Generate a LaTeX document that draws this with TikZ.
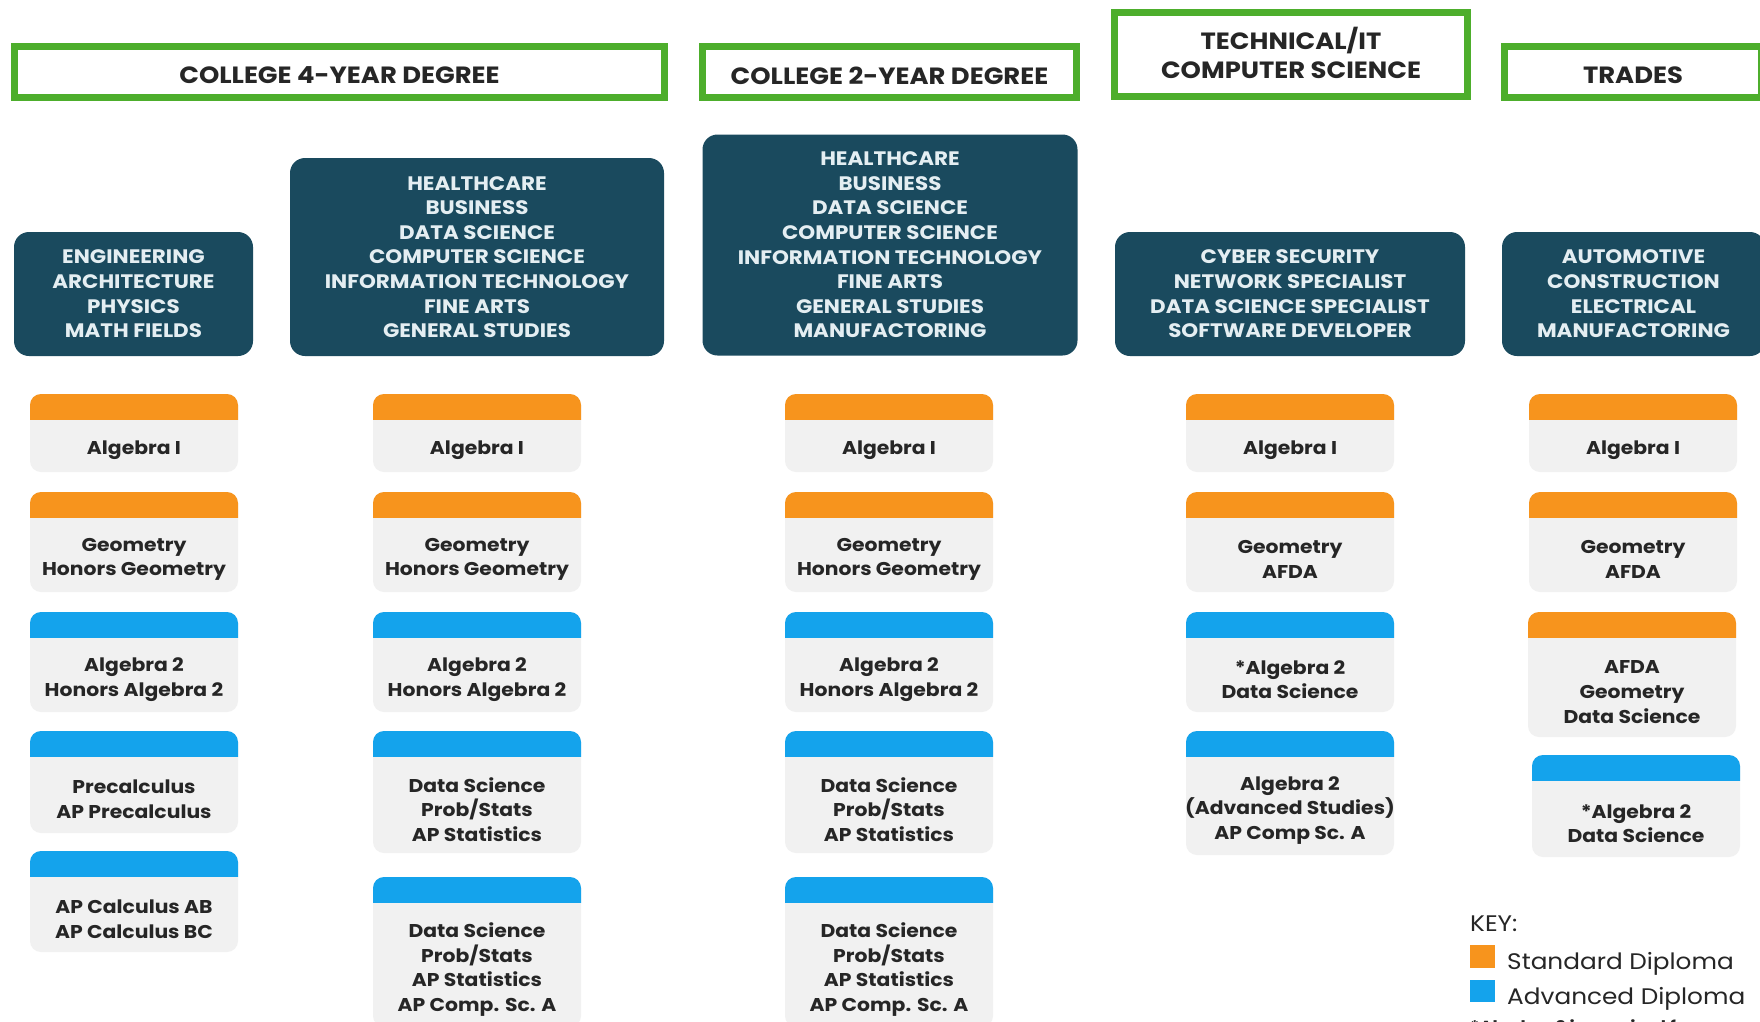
\documentclass[tikz,border=0pt]{standalone}
\usepackage{fontspec}
\setmainfont{Poppins}[FakeStretch=1.1]
\definecolor{hdrgreen}{HTML}{4DAE2C}
\definecolor{darkteal}{HTML}{1A4A5E}
\definecolor{boxtext}{HTML}{E4EEF2}
\definecolor{stdorange}{HTML}{F7941D}
\definecolor{advblue}{HTML}{14A3EC}
\definecolor{cardgrey}{HTML}{F1F1F1}
\definecolor{inktext}{HTML}{262626}
\tikzset{
  hdrbox/.style={draw=hdrgreen, line width=7pt, fill=white, inner sep=0pt},
  hdrlabel/.style={text=inktext, align=center,
    font=\fontsize{23.5}{29}\selectfont\bfseries, inner sep=0pt},
  fieldbox/.style={fill=darkteal, rounded corners=15pt, text=boxtext, align=center,
    font=\fontsize{19.5}{24.6}\selectfont\bfseries, inner sep=0pt},
  cardtext/.style={text=inktext, align=center, font=\fontsize{18.5}{24.6}\selectfont\bfseries, inner sep=0pt},
  keytext/.style={text=inktext, anchor=west, font=\fontsize{22.5}{26}\selectfont, inner sep=0pt},
}
\newcommand\coursecard[6]{%
  \fill[cardgrey, rounded corners=11pt] ({#2-104},{#3}) rectangle ({#2+104},{#3+#4});
  \begin{scope}
    \clip ({#2-104},{#3}) rectangle ({#2+104},{#3+25});
    \fill[#5, rounded corners=11pt] ({#2-104},{#3}) rectangle ({#2+104},{#3+#4});
  \end{scope}
  \node[cardtext] (#1) at ({#2},{#3+17.5+#4/2}) {#6};
}
\begin{document}
\begin{tikzpicture}[x=1pt,y=-1pt]
\useasboundingbox (0,0) rectangle (1760,1021);
\clip (0,0) rectangle (1760,1021);
\fill[white] (0,0) rectangle (1760,1021);

% headers
\node[hdrbox, minimum width=650, minimum height=51] (h1) at (339.5,72) {};
\node[hdrlabel] (h1t) at (339.5,75.5) {COLLEGE 4-YEAR DEGREE};
\node[hdrbox, minimum width=374, minimum height=51] (h2) at (889.5,72) {};
\node[hdrlabel] (h2t) at (889.5,75.5) {COLLEGE 2-YEAR DEGREE};
\node[hdrbox, minimum width=353, minimum height=84] (h3) at (1291,54.5) {};
\node[hdrlabel] (h3t) at (1291,53) {TECHNICAL/IT\\COMPUTER SCIENCE};
\node[hdrbox, minimum width=257, minimum height=51] (h4) at (1633,72) {};
\node[hdrlabel] (h4t) at (1633,75.5) {TRADES};

% field boxes
\node[fieldbox, minimum width=239, minimum height=124] (f1) at (133.5,294) {ENGINEERING\\ARCHITECTURE\\PHYSICS\\MATH FIELDS};
\node[fieldbox, minimum width=374, minimum height=198] (f2) at (477,257) {HEALTHCARE\\BUSINESS\\DATA SCIENCE\\COMPUTER SCIENCE\\INFORMATION TECHNOLOGY\\FINE ARTS\\GENERAL STUDIES};
\node[fieldbox, minimum width=375, minimum height=221] (f3) at (890,245) {HEALTHCARE\\BUSINESS\\DATA SCIENCE\\COMPUTER SCIENCE\\INFORMATION TECHNOLOGY\\FINE ARTS\\GENERAL STUDIES\\MANUFACTORING};
\node[fieldbox, minimum width=350, minimum height=124] (f4) at (1290,294) {CYBER SECURITY\\NETWORK SPECIALIST\\DATA SCIENCE SPECIALIST\\SOFTWARE DEVELOPER};
\node[fieldbox, minimum width=263, minimum height=124] (f5) at (1633.5,294) {AUTOMOTIVE\\CONSTRUCTION\\ELECTRICAL\\MANUFACTORING};

% column 1
\coursecard{c11}{134}{394}{78}{stdorange}{Algebra I}
\coursecard{c12}{134}{492}{100}{stdorange}{Geometry\\Honors Geometry}
\coursecard{c13}{134}{612}{100}{advblue}{Algebra 2\\Honors Algebra 2}
\coursecard{c14}{134}{731}{102}{advblue}{Precalculus\\AP Precalculus}
\coursecard{c15}{134}{851}{101}{advblue}{AP Calculus AB\\AP Calculus BC}

% column 2
\coursecard{c21}{477}{394}{78}{stdorange}{Algebra I}
\coursecard{c22}{477}{492}{100}{stdorange}{Geometry\\Honors Geometry}
\coursecard{c23}{477}{612}{100}{advblue}{Algebra 2\\Honors Algebra 2}
\coursecard{c24}{477}{731}{122}{advblue}{Data Science\\Prob/Stats\\AP Statistics}
\coursecard{c25}{477}{877}{150}{advblue}{Data Science\\Prob/Stats\\AP Statistics\\AP Comp. Sc. A}

% column 3
\coursecard{c31}{889}{394}{78}{stdorange}{Algebra I}
\coursecard{c32}{889}{492}{100}{stdorange}{Geometry\\Honors Geometry}
\coursecard{c33}{889}{612}{100}{advblue}{Algebra 2\\Honors Algebra 2}
\coursecard{c34}{889}{731}{122}{advblue}{Data Science\\Prob/Stats\\AP Statistics}
\coursecard{c35}{889}{877}{150}{advblue}{Data Science\\Prob/Stats\\AP Statistics\\AP Comp. Sc. A}

% column 4
\coursecard{c41}{1290}{394}{78}{stdorange}{Algebra I}
\coursecard{c42}{1290}{492}{100}{stdorange}{Geometry\\AFDA}
\coursecard{c43}{1290}{612}{100}{advblue}{*Algebra 2\\Data Science}
\coursecard{c44}{1290}{731}{124}{advblue}{Algebra 2\\(Advanced Studies)\\AP Comp Sc. A}

% column 5
\coursecard{c51}{1633}{394}{78}{stdorange}{Algebra I}
\coursecard{c52}{1633}{492}{100}{stdorange}{Geometry\\AFDA}
\coursecard{c53}{1632}{612}{125}{stdorange}{AFDA\\Geometry\\Data Science}
\coursecard{c54}{1636}{755}{102}{advblue}{*Algebra 2\\Data Science}

% key
\node[keytext] (keyhead) at (1470,924) {KEY:};
\fill[stdorange] (1470,945) rectangle (1495,968);
\node[keytext] (keystd) at (1507,964) {Standard Diploma};
\fill[advblue] (1470,980) rectangle (1495,1002);
\node[keytext] (keyadv) at (1507,999) {Advanced Diploma};
\node[keytext, font=\fontsize{16}{20}\selectfont\bfseries] (keynote) at (1470,1028) {*Algebra 2 is required for an};
\end{tikzpicture}
\end{document}
